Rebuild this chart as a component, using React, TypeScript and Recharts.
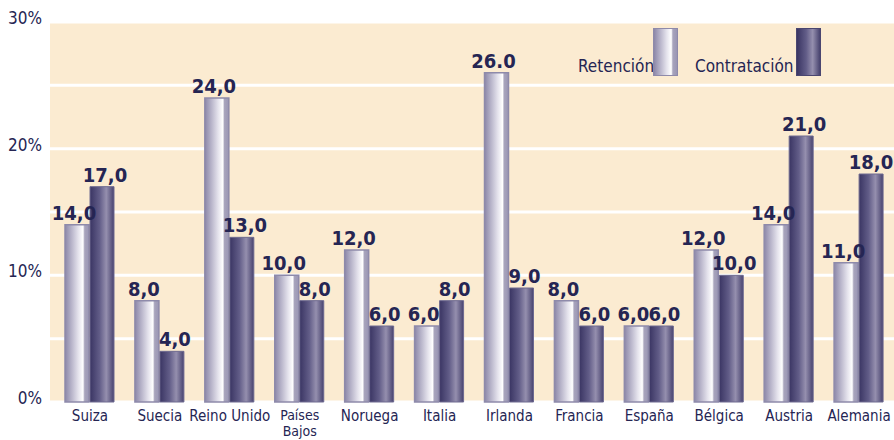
import { BarChart, Bar, XAxis, YAxis, CartesianGrid, LabelList, Legend } from "recharts";

const countries = ["Suiza", "Suecia", "Reino Unido", "Países Bajos", "Noruega", "Italia", "Irlanda", "Francia", "España", "Bélgica", "Austria", "Alemania"];
const retencion = [14, 8, 24, 10, 12, 6, 26, 8, 6, 12, 14, 11];
const contratacion = [17, 4, 13, 8, 6, 8, 9, 6, 6, 10, 21, 18];
const retLabels = ["14,0", "8,0", "24,0", "10,0", "12,0", "6,0", "26.0", "8,0", "6,0", "12,0", "14,0", "11,0"];
const conLabels = ["17,0", "4,0", "13,0", "8,0", "6,0", "8,0", "9,0", "6,0", "6,0", "10,0", "21,0", "18,0"];
const yTicks = [0, 5, 10, 15, 20, 25, 30];

const data = countries.map((c, i) => ({
  name: c,
  ret: retencion[i],
  con: contratacion[i],
  retLabel: retLabels[i],
  conLabel: conLabels[i],
}));

const NAVY = "#252553";
const FONT = "'DejaVu Sans Condensed', 'DejaVu Sans', sans-serif";
const COND = { fontStretch: "condensed" as const };

const XTick = ({ x, y, payload }: any) => {
  if (payload.value === "Países Bajos") {
    return (
      <g fill={NAVY} fontSize={14} fontFamily={FONT} style={COND}>
        <text x={x} y={y + 10} textAnchor="middle">Países</text>
        <text x={x} y={y + 26} textAnchor="middle">Bajos</text>
      </g>
    );
  }
  return (
    <text x={x} y={y + 11} textAnchor="middle" fill={NAVY} fontSize={15} fontFamily={FONT} style={COND}>
      {payload.value}
    </text>
  );
};

const YTick = ({ x, y, payload }: any) => {
  if (payload.value % 10 !== 0) return null;
  return (
    <text x={x} y={y} dy={2} textAnchor="end" fill={NAVY} fontSize={17} fontFamily={FONT} style={COND}>
      {payload.value}%
    </text>
  );
};

// value label above a bar, nudged sideways so neighbouring labels don't collide
const makeLabel = (shift: number) => (props: any) => {
  const { x, y, width, value } = props;
  const cx = Math.min(x + width / 2 + shift, 871);
  return (
    <text x={cx} y={y - 5} textAnchor="middle" fill={NAVY} fontSize={20} fontWeight="bold" fontFamily={FONT} style={COND}>
      {value}
    </text>
  );
};

const legendText = { position: "absolute" as const, color: NAVY, fontFamily: FONT, fontSize: 17, fontStretch: "condensed", whiteSpace: "nowrap" as const };

const LegendBox = () => (
  <div style={{ position: "relative", width: 894, height: 0 }}>
    <div style={{ ...legendText, left: 578, top: 56 }}>Retención</div>
    <div style={{ position: "absolute", left: 653, top: 28, width: 23, height: 46, border: "1.5px solid #8e8aaa", background: "linear-gradient(90deg,#8c87a8,#e4e2ec 55%,#ffffff 75%,#a8a4bc 82%,#9a96b4)" }} />
    <div style={{ ...legendText, left: 695, top: 56 }}>Contratación</div>
    <div style={{ position: "absolute", left: 796, top: 28, width: 23, height: 46, border: "1.5px solid #4a4670", background: "linear-gradient(90deg,#3a3563,#625d88 40%,#958fae 68%,#47426e)" }} />
  </div>
);

export default function App() {
  return (
    <div style={{ position: "absolute", left: 0, top: 0, width: 894, height: 440, background: "#fff" }}>
      <BarChart
        width={894}
        height={440}
        data={data}
        margin={{ top: 22, right: 0, left: 0, bottom: 0 }}
        barSize={24}
        barGap={1}
      >
        <defs>
          <linearGradient id="gRet" x1="0" y1="0" x2="1" y2="0">
            <stop offset="0%" stopColor="#8c87a8" />
            <stop offset="55%" stopColor="#e4e2ec" />
            <stop offset="75%" stopColor="#ffffff" />
            <stop offset="82%" stopColor="#a8a4bc" />
            <stop offset="100%" stopColor="#9a96b4" />
          </linearGradient>
          <linearGradient id="gCon" x1="0" y1="0" x2="1" y2="0">
            <stop offset="0%" stopColor="#3a3563" />
            <stop offset="40%" stopColor="#625d88" />
            <stop offset="68%" stopColor="#958fae" />
            <stop offset="100%" stopColor="#47426e" />
          </linearGradient>
        </defs>
        <CartesianGrid
          vertical={false}
          fill="#fbebd1"
          stroke="#ffffff"
          strokeWidth={3}
          fillOpacity={1}
        />
        <XAxis
          dataKey="name"
          interval={0}
          height={38}
          tick={<XTick />}
          tickLine={false}
          axisLine={false}
          padding={{ left: 5, right: 0 }}
        />
        <YAxis
          domain={[0, 30]}
          ticks={yTicks}
          width={50}
          tick={<YTick />}
          tickLine={false}
          axisLine={false}
          tickMargin={2}
        />
        <Legend content={<LegendBox />} verticalAlign="top" wrapperStyle={{ top: 0, left: 0 }} />
        <Bar dataKey="ret" name="Retención" fill="url(#gRet)" stroke="#8e8aaa" strokeWidth={1.5} isAnimationActive={false}>
          <LabelList dataKey="retLabel" content={makeLabel(-3)} />
        </Bar>
        <Bar dataKey="con" name="Contratación" fill="url(#gCon)" stroke="#6e6a90" strokeWidth={1} isAnimationActive={false}>
          <LabelList dataKey="conLabel" content={makeLabel(3)} />
        </Bar>
      </BarChart>
    </div>
  );
}
